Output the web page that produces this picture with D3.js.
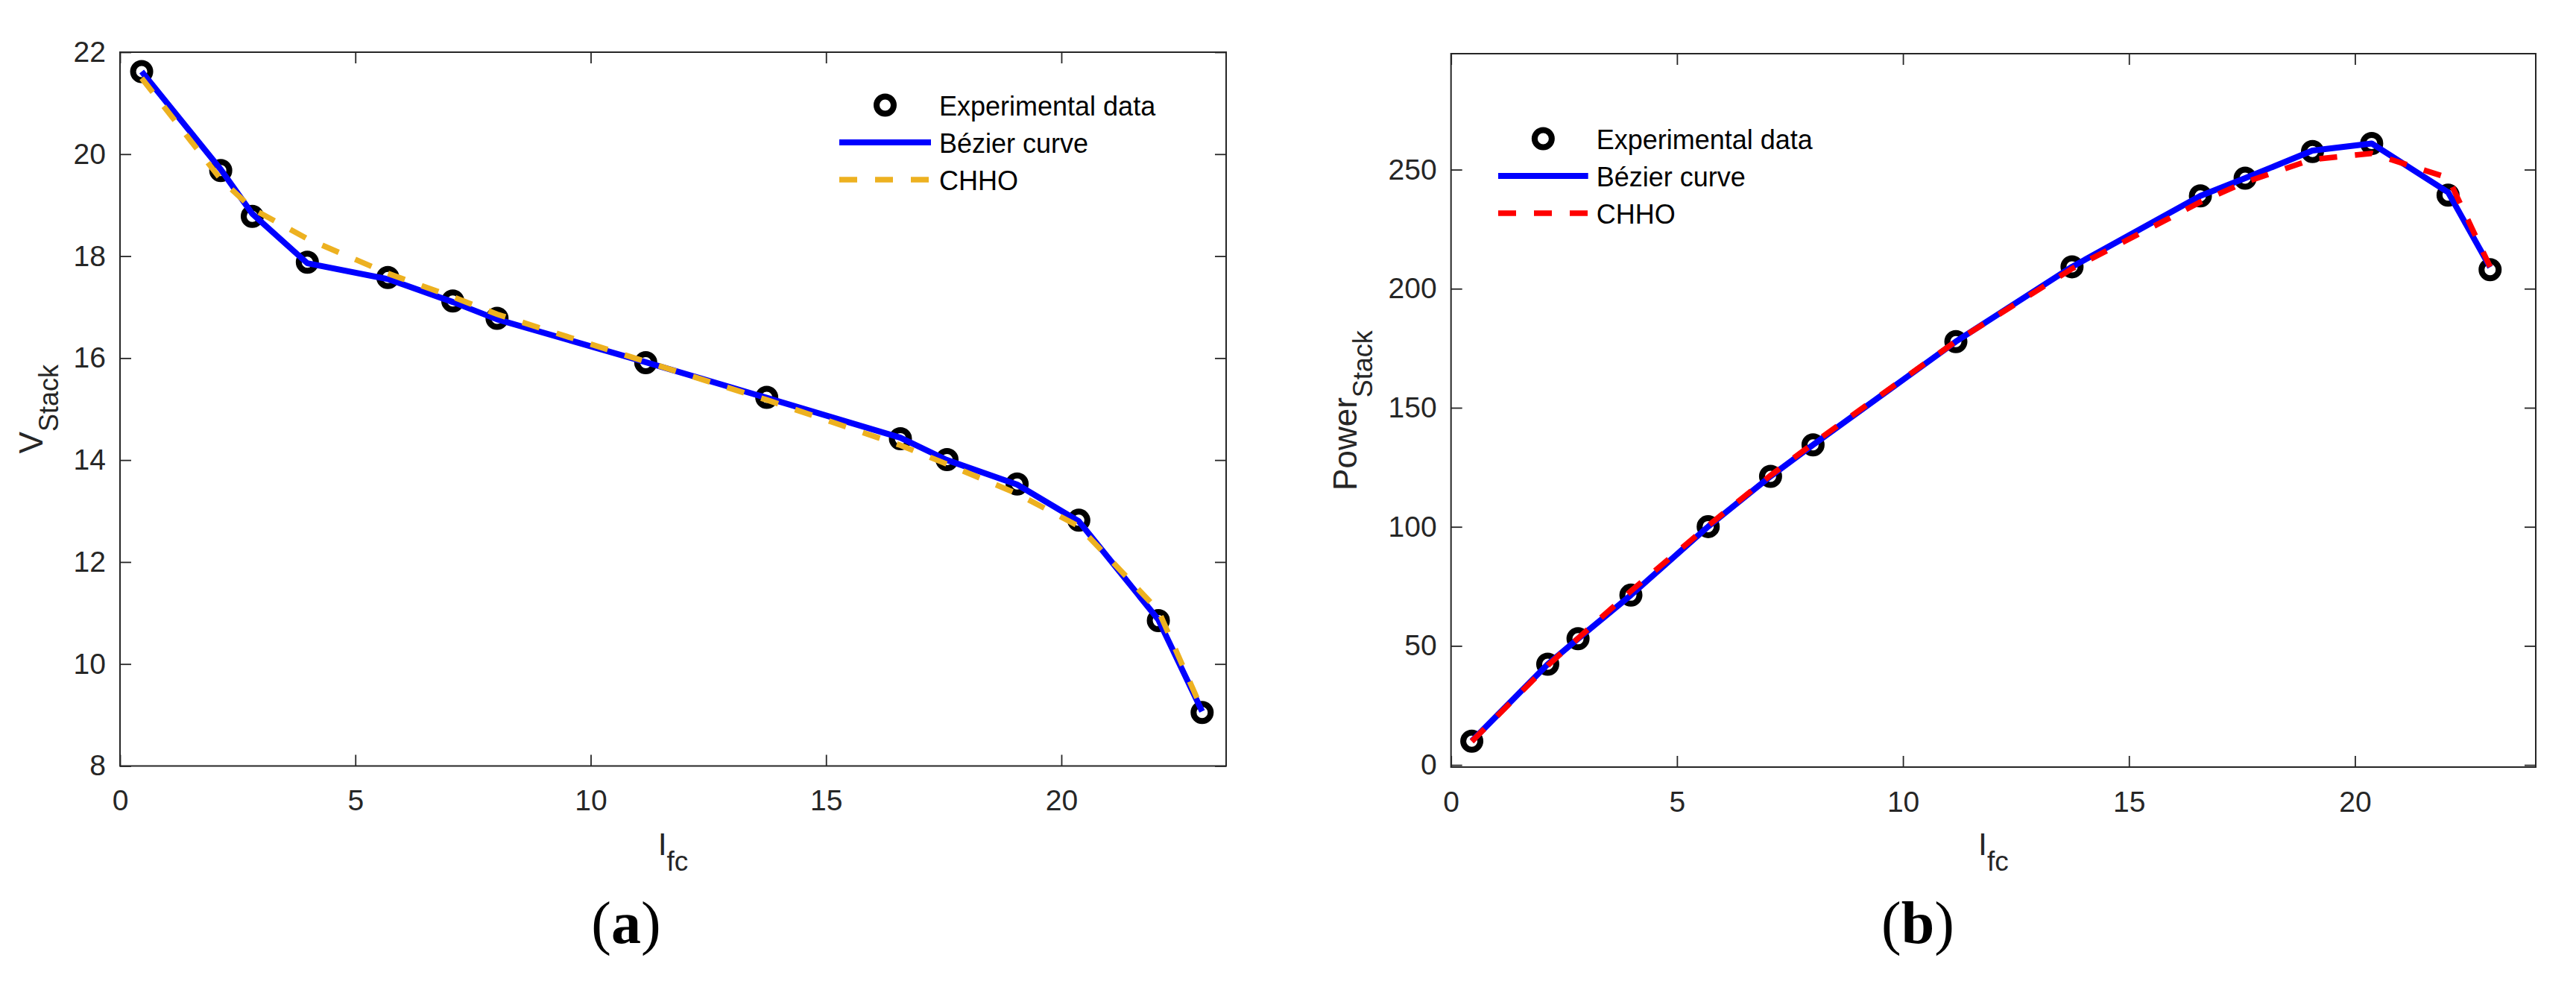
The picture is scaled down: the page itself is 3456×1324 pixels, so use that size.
<!DOCTYPE html>
<html>
<head>
<meta charset="utf-8">
<script src="https://cdn.jsdelivr.net/npm/d3@7"></script>
<style>
  body { margin: 0; background: #fff; }
  svg { display: block; }
  .tick text { font-family: "Liberation Sans", Arial, sans-serif; font-size: 39px; fill: #262626; }
  .tick line { stroke: #262626; stroke-width: 1.8; }
</style>
</head>
<body>
<svg id="fig" width="3456" height="1324"></svg>
<script>
// fuel cell current (A), shared by both panels
const current = [0.46, 2.14, 2.81, 3.98, 5.69, 7.07, 8.01, 11.17, 13.74, 16.58, 17.57, 19.06, 20.37, 22.06, 22.99];

// panel (a): stack voltage
const vStack  = [21.62, 19.68, 18.78, 17.88, 17.58, 17.12, 16.78, 15.91, 15.23, 14.42, 14.01, 13.53, 12.82, 10.85, 9.05];
const vBezier = [21.62, 19.70, 18.83, 17.86, 17.55, 17.10, 16.76, 15.92, 15.22, 14.44, 14.00, 13.52, 12.80, 10.87, 9.07];
const vChho   = [21.49, 19.51, 18.93, 18.34, 17.66, 17.20, 16.86, 15.93, 15.18, 14.29, 13.92, 13.34, 12.70, 11.05, 9.10];

// panel (b): stack power
const pStack  = [10.0, 42.3, 53.0, 71.3, 100.1, 121.2, 134.4, 177.8, 209.2, 239.0, 246.4, 257.6, 261.0, 239.3, 208.0];
const pBezier = [10.0, 42.3, 53.0, 71.3, 100.1, 121.2, 134.4, 177.8, 209.2, 239.0, 246.4, 258.0, 261.0, 240.5, 209.0];
const pChho   = [9.9, 41.8, 53.2, 73.0, 100.5, 121.6, 135.0, 177.9, 208.4, 236.4, 244.7, 254.3, 256.8, 246.6, 209.2];

const xTicks = [0, 5, 10, 15, 20];
const vTicks = [8, 10, 12, 14, 16, 18, 20, 22];
const pTicks = [0, 50, 100, 150, 200, 250];
const legendLabels = ["Experimental data", "Bézier curve", "CHHO"];

const svg = d3.select("#fig");
svg.append("rect").attr("width", 3456).attr("height", 1324).attr("fill", "#fff");

function drawPanel(p) {
  const x = d3.scaleLinear().domain(p.xDomain).range([p.left, p.right]);
  const y = d3.scaleLinear().domain(p.yDomain).range([p.bottom, p.top]);
  const g = svg.append("g");

  // axes with inward ticks on all four sides
  g.append("g").attr("transform", `translate(0,${p.bottom})`)
    .call(d3.axisBottom(x).tickValues(xTicks).tickSizeInner(-15).tickSizeOuter(0).tickPadding(32))
    .call(a => a.select(".domain").remove());
  g.append("g").attr("transform", `translate(0,${p.top})`)
    .call(d3.axisTop(x).tickValues(xTicks).tickSizeInner(-15).tickSizeOuter(0).tickFormat(""))
    .call(a => a.select(".domain").remove());
  g.append("g").attr("transform", `translate(${p.left},0)`)
    .call(d3.axisLeft(y).tickValues(p.yTicks).tickSizeInner(-15).tickSizeOuter(0).tickPadding(19))
    .call(a => a.select(".domain").remove());
  g.append("g").attr("transform", `translate(${p.right},0)`)
    .call(d3.axisRight(y).tickValues(p.yTicks).tickSizeInner(-15).tickSizeOuter(0).tickFormat(""))
    .call(a => a.select(".domain").remove());

  g.append("rect")
    .attr("x", p.left).attr("y", p.top)
    .attr("width", p.right - p.left).attr("height", p.bottom - p.top)
    .attr("fill", "none").attr("stroke", "#262626").attr("stroke-width", 2);

  // experimental markers
  g.append("g").selectAll("circle")
    .data(current.map((c, i) => [c, p.exp[i]]))
    .join("circle")
    .attr("cx", d => x(d[0])).attr("cy", d => y(d[1]))
    .attr("r", 11.5).attr("fill", "none").attr("stroke", "#000").attr("stroke-width", 8);

  const line = d3.line().x(d => x(d[0])).y(d => y(d[1]));
  g.append("path")
    .datum(current.map((c, i) => [c, p.bez[i]]))
    .attr("d", line).attr("fill", "none")
    .attr("stroke", "#0000ff").attr("stroke-width", 8).attr("stroke-linejoin", "round");
  g.append("path")
    .datum(current.map((c, i) => [c, p.chho[i]]))
    .attr("d", line).attr("fill", "none")
    .attr("stroke", p.chhoColor).attr("stroke-width", 7.5).attr("stroke-dasharray", "24,24");

  // legend
  const lg = g.append("g");
  legendLabels.forEach((label, i) => {
    const ry = p.legY + i * 50;
    if (i === 0) {
      lg.append("circle").attr("cx", (p.legX0 + p.legX1) / 2).attr("cy", ry)
        .attr("r", 11.5).attr("fill", "none").attr("stroke", "#000").attr("stroke-width", 8);
    } else if (i === 1) {
      lg.append("line").attr("x1", p.legX0).attr("x2", p.legX1).attr("y1", ry).attr("y2", ry)
        .attr("stroke", "#0000ff").attr("stroke-width", 8);
    } else {
      lg.append("line").attr("x1", p.legX0).attr("x2", p.legX1).attr("y1", ry).attr("y2", ry)
        .attr("stroke", p.chhoColor).attr("stroke-width", 7.5).attr("stroke-dasharray", "24,24");
    }
    lg.append("text").attr("x", p.legX1 + 11).attr("y", ry + 14)
      .attr("font-family", "Liberation Sans, Arial, sans-serif").attr("font-size", 36)
      .attr("fill", "#000").text(label);
  });

  // y label
  const yl = g.append("text")
    .attr("transform", `translate(${p.yLabelX},${(p.top + p.bottom) / 2}) rotate(-90)`)
    .attr("text-anchor", "middle")
    .attr("font-family", "Liberation Sans, Arial, sans-serif").attr("fill", "#262626");
  yl.append("tspan").attr("font-size", 44).text(p.yMain);
  yl.append("tspan").attr("font-size", 36).attr("dy", 21).text("Stack");

  // x label
  const xl = g.append("text")
    .attr("x", (p.left + p.right) / 2).attr("y", 1147)
    .attr("text-anchor", "middle")
    .attr("font-family", "Liberation Sans, Arial, sans-serif").attr("fill", "#262626");
  xl.append("tspan").attr("font-size", 43).text("I");
  xl.append("tspan").attr("font-size", 37).attr("dy", 21).text("fc");

  // caption
  const cap = g.append("text")
    .attr("x", p.capX).attr("y", 1265).attr("text-anchor", "middle")
    .attr("font-family", "Liberation Serif, Times New Roman, serif").attr("font-size", 80).attr("fill", "#000");
  cap.append("tspan").text("(");
  cap.append("tspan").attr("font-weight", "bold").text(p.capLetter);
  cap.append("tspan").text(")");
}

drawPanel({
  left: 161, right: 1645, top: 70, bottom: 1027.5,
  xDomain: [0, 23.5], yDomain: [8, 22], yTicks: vTicks,
  exp: vStack, bez: vBezier, chho: vChho, chhoColor: "#edb120",
  legX0: 1126, legX1: 1249, legY: 141,
  yMain: "V", yLabelX: 57,
  capX: 840, capLetter: "a"
});

drawPanel({
  left: 1946.7, right: 3402, top: 72, bottom: 1029,
  xDomain: [0, 24], yDomain: [-0.9, 298.7], yTicks: pTicks,
  exp: pStack, bez: pBezier, chho: pChho, chhoColor: "#ff0000",
  legX0: 2010, legX1: 2130.7, legY: 186,
  yMain: "Power", yLabelX: 1820,
  capX: 2573, capLetter: "b"
});
</script>
</body>
</html>
